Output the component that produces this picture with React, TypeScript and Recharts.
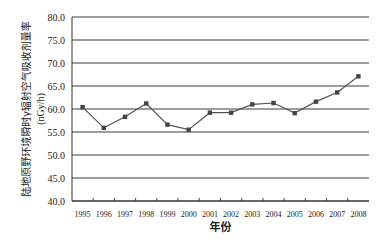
import { LineChart, Line, XAxis, YAxis, CartesianGrid } from "recharts";

const years = [
  "1995", "1996", "1997", "1998", "1999", "2000", "2001",
  "2002", "2003", "2004", "2005", "2006", "2007", "2008",
];
const doseRate = [
  60.4, 55.9, 58.3, 61.2, 56.6, 55.5, 59.2,
  59.2, 61.0, 61.3, 59.1, 61.6, 63.6, 67.1,
];
const yTicks = [40, 45, 50, 55, 60, 65, 70, 75, 80];

const data = years.map((year, i) => ({ year, value: doseRate[i] }));

const SERIF = "'Liberation Serif', 'DejaVu Serif', serif";
const CJK = "'Noto Sans CJK SC', sans-serif";
const HALF_STEP = 10.6;

const YearTick = (props: any) => {
  const { x, y, payload, index } = props;
  return (
    <g>
      {index < years.length - 1 && (
        <line x1={x + HALF_STEP} x2={x + HALF_STEP} y1={y} y2={y - 3} stroke="#444" />
      )}
      <text x={x} y={y + 16} textAnchor="middle" fontSize={8} fill="#222" fontFamily={SERIF}>
        {payload.value}
      </text>
    </g>
  );
};

const SquareDot = (props: any) => {
  const { cx, cy } = props;
  if (cx == null || cy == null) return null;
  return <rect x={cx - 2.2} y={cy - 2.2} width={4.4} height={4.4} fill="#444" />;
};

const YTitle = (props: any) => {
  const vb = props.viewBox || {};
  const cy = (vb.y ?? 17) + (vb.height ?? 184) / 2;
  return (
    <g>
      <text
        x={30}
        y={cy}
        transform={`rotate(-90 30 ${cy})`}
        textAnchor="middle"
        fontSize={10}
        fill="#222"
        fontFamily={CJK}
      >
        陆地原野环境瞬时γ辐射空气吸收剂量率
      </text>
      <text
        x={44}
        y={cy}
        transform={`rotate(-90 44 ${cy})`}
        textAnchor="middle"
        fontSize={10}
        fill="#222"
        fontFamily={SERIF}
      >
        (nGy/h)
      </text>
    </g>
  );
};

export default function App() {
  return (
    <div style={{ position: "absolute", left: 0, top: 0, width: 388, height: 240, background: "#fff" }}>
      <LineChart width={388} height={240} data={data} margin={{ top: 17, right: 19, bottom: 0, left: 0 }}>
        <CartesianGrid yAxisId="l" vertical={false} stroke="#3a3a3a" strokeWidth={1} />
        <XAxis
          dataKey="year"
          interval={0}
          height={39}
          padding={{ left: HALF_STEP, right: HALF_STEP }}
          tick={<YearTick />}
          tickLine={false}
          tickSize={0}
          tickMargin={0}
          axisLine={{ stroke: "#333" }}
          label={{
            value: "年份",
            position: "insideBottom",
            offset: 9,
            fontSize: 11,
            fontWeight: "bold",
            fill: "#222",
            fontFamily: CJK,
          }}
        />
        <YAxis
          yAxisId="l"
          width={72}
          domain={[40, 80]}
          ticks={yTicks}
          tickFormatter={(v: number) => v.toFixed(1)}
          tick={{ fontSize: 10, fill: "#222", fontFamily: SERIF }}
          tickLine={false}
          tickSize={0}
          tickMargin={7}
          axisLine={{ stroke: "#333" }}
          label={<YTitle />}
        />
        <YAxis
          yAxisId="r"
          orientation="right"
          width={0}
          tick={false}
          tickLine={false}
          axisLine={{ stroke: "#bbb" }}
        />
        <Line
          yAxisId="l"
          dataKey="value"
          stroke="#555"
          strokeWidth={1.2}
          dot={<SquareDot />}
          activeDot={false}
          isAnimationActive={false}
        />
      </LineChart>
    </div>
  );
}
